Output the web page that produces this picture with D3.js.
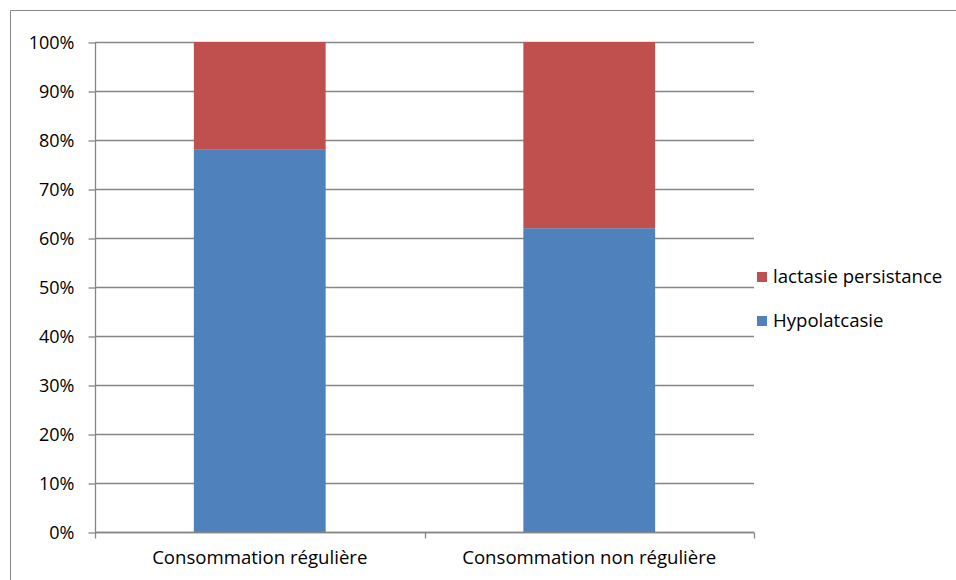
<!DOCTYPE html>
<html>
<head>
<meta charset="utf-8">
<script src="https://cdn.jsdelivr.net/npm/d3@7"></script>
<style>
  html, body { margin: 0; padding: 0; background: #fff; }
  svg { display: block; }
  text { font-family: "Open Sans", "Noto Sans", sans-serif; fill: #000; }
</style>
</head>
<body>
<svg id="chart" width="956" height="580"></svg>
<script>
// Consumption groups and share of each lactase phenotype (percent)
const categories = ["Consommation régulière", "Consommation non régulière"];
const hypolactasie = [78, 62];
const persistance = [22, 38];
const seriesNames = ["Hypolatcasie", "lactasie persistance"];
const seriesColors = ["#4F81BD", "#C0504D"];
const yTicks = [0, 10, 20, 30, 40, 50, 60, 70, 80, 90, 100];

const svg = d3.select("#chart");
const gridColor = "#868686";
const labelSize = "18.6px";

// Chart frame
svg.append("path")
  .attr("d", "M10.5,600 V10.5 H960")
  .attr("fill", "none").attr("stroke", gridColor).attr("stroke-width", 1);

const plot = { left: 95, right: 754, top: 42, bottom: 532 };

const x = d3.scaleBand().domain(categories).range([plot.left, plot.right]).paddingInner(0.6).paddingOuter(0.3);
const xOuter = d3.scaleBand().domain(categories).range([plot.left, plot.right]);
const y = d3.scaleLinear().domain([0, 100]).range([plot.bottom, plot.top]);

// Horizontal gridlines
svg.append("g").selectAll("line").data(yTicks).join("line")
  .attr("x1", plot.left).attr("x2", plot.right)
  .attr("y1", d => Math.round(y(d)) + 0.5).attr("y2", d => Math.round(y(d)) + 0.5)
  .attr("stroke", gridColor).attr("stroke-width", 1.3);

// Stacked bars
const rows = categories.map((c, i) => ({ cat: c, [seriesNames[0]]: hypolactasie[i], [seriesNames[1]]: persistance[i] }));
const stack = d3.stack().keys(seriesNames)(rows);
svg.append("g").selectAll("g").data(stack).join("g")
  .attr("fill", (d, i) => seriesColors[i])
  .selectAll("rect").data(d => d).join("rect")
  .attr("x", d => x(d.data.cat))
  .attr("width", x.bandwidth())
  .attr("y", d => y(d[1]))
  .attr("height", d => y(d[0]) - y(d[1]));

// Y axis
const yAxis = d3.axisLeft(y).tickValues(yTicks).tickFormat(d => d + "%").tickSize(7).tickPadding(14);
const gy = svg.append("g").attr("transform", `translate(${plot.left + 0.5},0.5)`).call(yAxis);
gy.select(".domain").attr("stroke", gridColor).attr("stroke-width", 1.3).attr("d", `M0,${plot.top}V${plot.bottom + 6}`);
gy.selectAll(".tick line").attr("stroke", gridColor).attr("stroke-width", 1.3);
gy.selectAll(".tick text").style("font-size", "18px").style("font-family", "'Open Sans', sans-serif").attr("fill", "#000");

// X axis
const xAxis = d3.axisBottom(xOuter).tickSize(0).tickPadding(18);
const gx = svg.append("g").attr("transform", `translate(0,${plot.bottom + 0.5})`).call(xAxis);
gx.select(".domain").attr("stroke", gridColor).attr("stroke-width", 1.3).attr("d", `M${plot.left},0H${plot.right}`);
gx.selectAll(".tick text").style("font-size", labelSize).style("font-family", "'Open Sans', sans-serif").attr("fill", "#000");
// category separators
const seps = categories.map(c => xOuter(c) + xOuter.bandwidth());
gx.append("g").selectAll("line").data(seps).join("line")
  .attr("x1", d => Math.round(d) + 0.5).attr("x2", d => Math.round(d) + 0.5)
  .attr("y1", 0).attr("y2", 6)
  .attr("stroke", gridColor).attr("stroke-width", 1.3);

// Legend (reverse order: top series first)
const legend = svg.append("g").attr("transform", "translate(757,272)");
const legendItems = seriesNames.map((n, i) => ({ name: n, color: seriesColors[i] })).reverse();
const li = legend.selectAll("g").data(legendItems).join("g")
  .attr("transform", (d, i) => `translate(0,${i * 44})`);
li.append("rect").attr("width", 10).attr("height", 10).attr("fill", d => d.color);
li.append("text").attr("x", 16).attr("y", 11).text(d => d.name)
  .style("font-size", labelSize);
</script>
</body>
</html>
